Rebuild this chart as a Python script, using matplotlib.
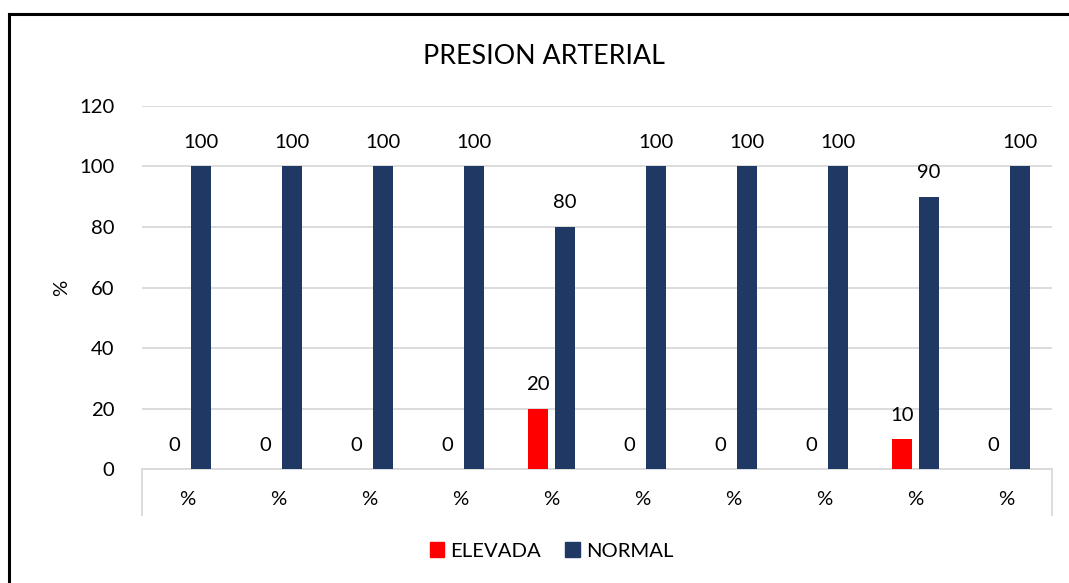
import numpy as np
import matplotlib.pyplot as plt
from matplotlib.lines import Line2D

plt.rcParams['font.family'] = ['Lato', 'DejaVu Sans']

# data
categories = ['%'] * 10
elevada = [0, 0, 0, 0, 20, 0, 0, 0, 10, 0]
normal = [100, 100, 100, 100, 80, 100, 100, 100, 90, 100]
yticks = [0, 20, 40, 60, 80, 100, 120]

red = '#ff0000'
navy = '#203864'
grid_c = '#d9d9d9'

fig = plt.figure(figsize=(10.69, 5.83), dpi=100)
ax = fig.add_axes([0.1328, 0.1955, 0.8513, 0.6227])

x = np.arange(len(categories))
w = 0.22
off = 0.148
ax.bar(x - off, elevada, w, color=red, zorder=3)
ax.bar(x + off, normal, w, color=navy, zorder=3)

fs = 14.6
for xi, v in zip(x, elevada):
    ax.annotate(str(v), (xi - off, v), xytext=(0, 17), textcoords='offset points',
                ha='center', va='center', fontsize=fs, color='black')
for xi, v in zip(x, normal):
    ax.annotate(str(v), (xi + off, v), xytext=(0, 17.5), textcoords='offset points',
                ha='center', va='center', fontsize=fs, color='black')

ax.set_xlim(-0.5, len(categories) - 0.5)
ax.set_ylim(0, 120)
ax.set_yticks(yticks)
ax.set_xticks(x)
ax.set_xticklabels(categories)
ax.tick_params(axis='both', length=0, labelsize=fs)
ax.tick_params(axis='x', pad=16)
ax.tick_params(axis='y', pad=20)
ax.yaxis.grid(True, color=grid_c, linewidth=1.3, zorder=0)
for s in ['top', 'right', 'left']:
    ax.spines[s].set_visible(False)
ax.spines['bottom'].set_color(grid_c)
ax.spines['bottom'].set_linewidth(1.3)

# outer category separators below the axis
for xe in [-0.5, len(categories) - 0.5]:
    ax.plot([xe, xe], [0, -15.2], color=grid_c, lw=1.3, clip_on=False, zorder=1)

ax.set_ylabel('%', fontsize=fs, labelpad=6)
fig.text(0.509, 0.903, 'PRESION ARTERIAL', ha='center', va='center', fontsize=19.3)

handles = [plt.Rectangle((0, 0), 1, 1, color=red), plt.Rectangle((0, 0), 1, 1, color=navy)]
fig.legend(handles, ['ELEVADA', 'NORMAL'], loc='center', bbox_to_anchor=(0.516, 0.055),
           ncol=2, frameon=False, fontsize=fs, handlelength=0.72, handleheight=0.72,
           handletextpad=0.3, columnspacing=1.2)

# chart border
fig.add_artist(Line2D([9 / 1069, 1], [1 - 14 / 583, 1 - 14 / 583], color='black', lw=2.2))
fig.add_artist(Line2D([9 / 1069, 9 / 1069], [0, 1 - 14 / 583], color='black', lw=2.2))

fig.savefig('out.png', dpi=100)
